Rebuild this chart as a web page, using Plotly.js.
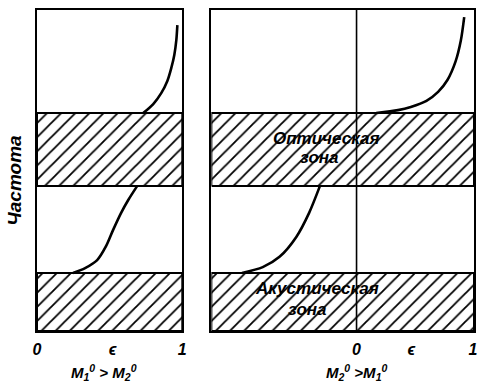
<!DOCTYPE html>
<html>
<head>
<meta charset="utf-8">
<script src="https://cdn.plot.ly/plotly-3.0.1.min.js"></script>
<style>html,body{margin:0;padding:0;background:#fff;}#chart{width:478px;height:386px;}</style>
</head>
<body>
<div id="chart"></div>
<script>
// ---- data ----
const leftRange = [0, 1];
const rightRange = [-1.246, 1.008];
const yRange = [0, 10];
const acousticBand = [0, 1.81];
const opticalBand = [4.52, 6.79];

const leftUpperX = [0.731, 0.800, 0.855, 0.897, 0.924, 0.945, 0.959, 0.966];
const leftUpperY = [6.79, 7.07, 7.41, 7.79, 8.19, 8.60, 9.07, 9.53];
const leftLowerX = [0.248, 0.331, 0.414, 0.476, 0.524, 0.579, 0.628, 0.690];
const leftLowerY = [1.81, 1.96, 2.21, 2.65, 3.15, 3.68, 4.08, 4.52];

const rightUpperX = [0.169, 0.356, 0.466, 0.600, 0.700, 0.780, 0.850, 0.895, 0.924];
const rightUpperY = [6.79, 6.88, 6.98, 7.17, 7.45, 7.82, 8.40, 9.05, 9.78];
const rightLowerX = [-0.983, -0.805, -0.661, -0.517, -0.407, -0.314];
const rightLowerY = [1.81, 1.99, 2.31, 2.93, 3.68, 4.52];

const leftTickVals = [0, 0.52, 1];
const rightTickVals = [0, 0.47, 1];
const tickLabels = ['0', 'ϵ', '1'];

const leftXTitle = 'M<sub>1</sub><sup>0</sup> > M<sub>2</sub><sup>0</sup>';
const rightXTitle = 'M<sub>2</sub><sup>0</sup> >M<sub>1</sub><sup>0</sup>';
const yTitle = 'Частота';

const zoneLabels = ['Оптическая', 'зона', 'Акустическая', 'зона'];
const zoneLabelX = [-0.263, -0.322, -0.339, -0.424];
const zoneLabelY = [6.00, 5.40, 1.32, 0.68];

// ---- build ----
const FONT = 'Liberation Sans, Arial, sans-serif';
const pattern = {shape: '/', fgcolor: 'black', bgcolor: 'white', size: 10, solidity: 0.18, fillmode: 'replace'};

function band(range, b, xa, ya) {
  return {
    x: [range[0], range[1], range[1], range[0], range[0]],
    y: [b[0], b[0], b[1], b[1], b[0]],
    xaxis: xa, yaxis: ya,
    mode: 'lines', fill: 'toself', fillcolor: 'white', fillpattern: pattern,
    line: {color: 'black', width: 2}, hoverinfo: 'skip', showlegend: false
  };
}
function curve(x, y, xa, ya) {
  return {x: x, y: y, xaxis: xa, yaxis: ya, mode: 'lines',
    line: {color: 'black', width: 2.6, shape: 'spline', smoothing: 0.8}, showlegend: false};
}

const traces = [
  band(leftRange, acousticBand, 'x', 'y'),
  band(leftRange, opticalBand, 'x', 'y'),
  band(rightRange, acousticBand, 'x2', 'y2'),
  band(rightRange, opticalBand, 'x2', 'y2'),
  curve(leftUpperX, leftUpperY, 'x', 'y'),
  curve(leftLowerX, leftLowerY, 'x', 'y'),
  curve(rightUpperX, rightUpperY, 'x2', 'y2'),
  curve(rightLowerX, rightLowerY, 'x2', 'y2')
];

const tickFont = {family: FONT, size: 16, color: 'black', style: 'italic', weight: 'bold'};
const axCommon = {showgrid: false, zeroline: false, showline: true, mirror: true,
  linecolor: 'black', linewidth: 2, ticks: '', ticklabelstandoff: 3, ticklabeloverflow: 'allow',
  tickfont: tickFont, fixedrange: true};

const zoneFont = {family: FONT, size: 17, color: 'black', style: 'italic', weight: 'bold'};
const annotations = [];
for (let i = 0; i < zoneLabels.length; i++) {
  annotations.push({xref: 'x2', yref: 'y2', x: zoneLabelX[i], y: zoneLabelY[i], text: zoneLabels[i],
    showarrow: false, font: zoneFont});
}
annotations.push({xref: 'x', yref: 'paper', x: 0.46, y: -0.13, yanchor: 'middle', text: leftXTitle, showarrow: false,
  font: {family: FONT, size: 15, color: 'black', style: 'italic', weight: 'bold'}});
annotations.push({xref: 'x2', yref: 'paper', x: 0, y: -0.13, yanchor: 'middle', text: rightXTitle, showarrow: false,
  font: {family: FONT, size: 15, color: 'black', style: 'italic', weight: 'bold'}});
annotations.push({xref: 'paper', yref: 'paper', x: -0.08, y: 0.47, textangle: -90, text: yTitle, showarrow: false,
  font: {family: FONT, size: 19, color: 'black', style: 'italic', weight: 'bold'}});

const layout = {
  width: 478, height: 386,
  margin: {l: 37, r: 4, t: 10, b: 55},
  paper_bgcolor: 'white', plot_bgcolor: 'white',
  xaxis: Object.assign({}, axCommon, {domain: [0, 0.3325], range: leftRange, tickvals: leftTickVals, ticktext: tickLabels, anchor: 'y'}),
  xaxis2: Object.assign({}, axCommon, {domain: [0.399, 1], range: rightRange, tickvals: rightTickVals, ticktext: tickLabels, anchor: 'y2'}),
  yaxis: Object.assign({}, axCommon, {range: yRange, showticklabels: false, anchor: 'x'}),
  yaxis2: Object.assign({}, axCommon, {range: yRange, showticklabels: false, anchor: 'x2', matches: 'y'}),
  shapes: [{type: 'line', xref: 'x2', yref: 'y2', x0: 0, x1: 0, y0: yRange[0], y1: yRange[1],
    line: {color: 'black', width: 1.6}, layer: 'above'}],
  annotations: annotations
};

Plotly.newPlot('chart', traces, layout, {staticPlot: true, displayModeBar: false});
</script>
</body>
</html>
